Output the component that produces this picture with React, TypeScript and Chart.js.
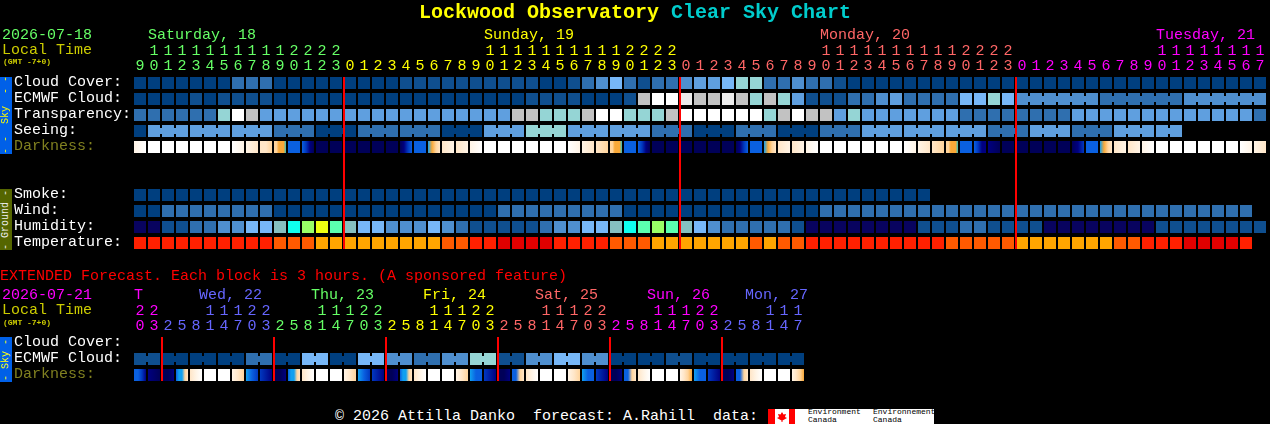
import { useEffect, useRef } from 'react';
import { Chart, registerables } from 'chart.js';

Chart.register(...registerables);

// ---- data ----
const hours = [
  9, 10, 11, 12, 13, 14, 15, 16, 17, 18, 19, 20, 21, 22, 23,
  0, 1, 2, 3, 4, 5, 6, 7, 8, 9, 10, 11, 12, 13, 14, 15, 16, 17, 18, 19, 20, 21, 22, 23,
  0, 1, 2, 3, 4, 5, 6, 7, 8, 9, 10, 11, 12, 13, 14, 15, 16, 17, 18, 19, 20, 21, 22, 23,
  0, 1, 2, 3, 4, 5, 6, 7, 8, 9, 10, 11, 12, 13, 14, 15, 16, 17,
];
const midnights = [15, 39, 63];
const rowNames = ['Cloud Cover:', 'ECMWF Cloud:', 'Transparency:', 'Seeing:', 'Darkness:', ' ', '  ', 'Smoke:', 'Wind:', 'Humidity:', 'Temperature:'];

// sky levels: 0 overcast ... 10 clear
const cloudCover = [
  0, 0, 0, 0, 0, 0, 0, 2, 2, 2, 0, 0, 0, 0, 0, 0, 0, 0, 0, 1, 1,
  1, 1, 1, 1, 1, 1, 1, 1, 0, 0, 1, 2, 3, 5, 2, 1, 2, 2, 3, 4, 4, 5, 6, 6, 2, 2, 3, 2, 2, 1, 0,
  0, 0, 0, 0, 0, 0, 0, 0, 0, 0, 0, 0, 0, 0, 0, 0, 0, 0, 0, 0, 0, 0, 0, 0, 0, 0, 0, 0, 0,
];
const ecmwfCloud = [
  0, 0, 0, 0, 1, 0, 1, 1, 1, 1, 0, 0, 0, 0, 0, 0, 0, 0, 0, 0, 0,
  0, 0, 0, 0, 0, 0, 0, 1, 1, 1, 1, 0, 0, 0, 1, 7, 10, 10, 8, 7, 7, 8, 7, 6, 7, 6, 4, 1, 1, 1, 2,
  2, 3, 4, 2, 2, 2, 2, 5, 5, 6, 5, 3, 3, 3, 3, 3, 3, 2, 2, 2, 2, 2, 2, 3, 3, 3, 3, 3, 3,
];
const transparency = [
  2, 2, 2, 2, 2, 2, 6, 10, 7, 4, 4, 4, 4, 4, 4, 4, 4, 4, 4, 4, 4,
  4, 4, 4, 4, 4, 4, 7, 7, 6, 6, 6, 7, 10, 10, 6, 6, 6, 7, 10, 10, 10, 10, 10, 10, 6, 7, 10, 7, 7, 4, 6,
  4, 4, 4, 4, 4, 4, 4, 2, 2, 2, 2, 2, 2, 2, 2, 4, 4, 4, 4, 4, 4, 4, 4, 4, 4, 4, 4, 4, 2,
];
const seeing = [
  0, 4, 4, 4, 4, 4, 4, 4, 4, 4, 2, 2, 2, 0, 0, 0, 2, 2, 2, 2, 2,
  2, 0, 0, 0, 4, 4, 4, 6, 6, 6, 4, 4, 4, 4, 4, 4, 2, 2, 2, 0, 0, 0, 2, 2, 2, 0, 0, 0, 2, 2, 2,
  4, 4, 4, 4, 4, 4, 4, 4, 4, 2, 2, 2, 4, 4, 4, 2, 2, 2, 4, 4, 4, 4, 4,
];
const smoke = [
  0, 0, 0, 0, 0, 0, 0, 0, 0, 0, 0, 0, 0, 0, 0, 0, 0, 0, 0, 0, 0,
  0, 0, 0, 0, 0, 0, 0, 0, 0, 0, 0, 0, 0, 0, 0, 0, 0, 0, 0, 0, 0, 0, 0, 0, 0, 0, 0, 0, 0, 0, 0,
  0, 0, 0, 0, 0,
];
const wind = [
  0, 0, 2, 2, 2, 2, 2, 2, 2, 2, 0, 0, 0, 0, 0, 0, 0, 0, 0, 0, 0,
  0, 0, 0, 0, 0, 2, 2, 2, 2, 2, 2, 2, 2, 2, 0, 0, 0, 0, 0, 0, 0, 0, 0, 0, 0, 0, 0, 0, 2, 2, 2,
  2, 2, 2, 2, 2, 2, 2, 2, 2, 2, 2, 2, 2, 2, 2, 2, 2, 2, 2, 2, 2, 2, 2, 2, 2, 2, 2, 2,
];
const humidity = [
  0, 0, 1, 1, 2, 2, 3, 3, 4, 4, 5, 6, 8, 9, 7, 5, 4, 4, 3, 3, 3,
  4, 3, 2, 1, 1, 1, 1, 1, 2, 3, 3, 4, 4, 5, 6, 7, 8, 7, 5, 4, 3, 2, 2, 2, 2, 2, 1, 0, 0, 0, 0,
  0, 0, 0, 0, 1, 1, 1, 2, 2, 1, 1, 1, 1, 0, 0, 0, 0, 0, 0, 0, 0, 1, 1, 1, 1, 1, 1, 1, 1,
];
const temperature = [
  1, 1, 1, 1, 1, 1, 1, 1, 1, 1, 2, 2, 2, 3, 3, 3, 3, 3, 3, 3, 3,
  3, 2, 2, 1, 1, 0, 0, 0, 0, 1, 1, 1, 1, 2, 2, 2, 3, 3, 3, 3, 3, 3, 3, 2, 3, 2, 2, 1, 1, 1, 1,
  1, 1, 1, 1, 1, 1, 2, 2, 2, 2, 2, 3, 3, 3, 3, 3, 3, 3, 2, 2, 1, 1, 1, 0, 0, 0, 0, 1,
];
// darkness levels across each block: 0 daylight ... 10 full night
const darkness = [
  [1, 0], [0], [0], [0], [0], [0], [0], [0, 1], [1, 2], [2, 2, 3], [3, 3, 4, 4, 4, 5], [7], [7, 8, 9, 10], [10], [10], [10], [10], [10], [10], [10, 9, 8, 7], [7],
  [6, 4, 3, 2], [2, 1], [2, 1], [1, 0], [0], [0], [0], [0], [0], [0], [0, 1], [1, 2], [2, 3], [3, 3, 4, 4, 4, 5], [7], [7, 8, 9, 10], [10], [10], [10], [10], [10], [10], [10, 9, 8, 7], [7], [6, 4, 3, 2], [2, 1], [2, 1], [1, 0], [0], [0], [0],
  [0], [0], [0], [0, 1], [1, 2], [2, 3], [3, 3, 4, 4, 4, 5], [7], [7, 8, 9, 9], [9, 10], [10], [10], [10], [10], [10], [10, 9, 8], [7], [6, 4, 3, 2], [2, 1], [2, 1], [1, 0], [0], [0], [0], [0], [0], [0], [0, 1], [1, 2],
];

const extHours = [
  20, 23,
  2, 5, 8, 11, 14, 17, 20, 23,
  2, 5, 8, 11, 14, 17, 20, 23,
  2, 5, 8, 11, 14, 17, 20, 23,
  2, 5, 8, 11, 14, 17, 20, 23,
  2, 5, 8, 11, 14, 17, 20, 23,
  2, 5, 8, 11, 14, 17,
];
const extMidnights = [2, 10, 18, 26, 34, 42];
const extRowNames = ['Cloud Cover:', 'ECMWF Cloud:', 'Darkness:'];
const extEcmwf = [
  1, 1, 0, 0, 0, 0, 0, 0, 2, 2, 0, 0, 5, 5, 0, 0, 5, 5, 3, 3,
  2, 2, 3, 3, 6, 6, 1, 1, 3, 3, 5, 5, 3, 3, 0, 0, 0, 0, 1, 1, 0, 0, 0, 0, 0, 0, 0, 0,
];
const extDarkness = [
  [7, 7, 8, 9], [9, 10], [10, 10, 9], [7, 6, 6, 3, 2], [2, 1, 0], [0], [0], [1, 2, 3],
  [6, 7, 8], [8, 9], [10, 10, 9], [7, 6, 6, 3, 2], [2, 1, 0], [0], [0], [1, 2, 3],
  [6, 7, 8], [8, 9], [10, 10, 9], [7, 6, 6, 3, 2], [2, 1, 0], [0], [0], [1, 2, 3],
  [6, 7, 7], [8, 9], [10, 10, 9], [7, 7, 3, 2], [2, 1, 0], [0], [0], [1, 2, 3],
  [6, 7, 7], [8, 9], [10, 10, 9], [7, 7, 3, 2], [2, 1, 0], [0], [0], [1, 2, 3, 4],
  [6, 7, 7], [8, 9], [10, 10, 9], [7, 7, 3, 2], [2, 1, 0], [0], [0], [1, 2, 3, 4],
];

// which neighbours are joined into one block (first column, run length)
const seeingGroupStart = 1;
const seeingGroupSize = 3;
const ecmwfMergedFrom = 63;
const ecmwfMergedSize = 6;
const extGroupSize = 2;

const dayTitles = ['Saturday, 18', 'Sunday, 19', 'Monday, 20', 'Tuesday, 21'];
const extDayTitles = ['T', 'Wed, 22', 'Thu, 23', 'Fri, 24', 'Sat, 25', 'Sun, 26', 'Mon, 27'];

// ---- palettes and layout ----
const GREEN = '#66ff66';
const YELLOW = '#ffff00';
const SALMON = '#ff6666';
const MAGENTA = '#ff00ff';
const BLUE = '#6666ff';
const OLIVE = '#808020';
const MONO = '"Liberation Mono", monospace';

const skyColors = ['#003f7f', '#0f4f8f', '#2f6faf', '#4f8fcf', '#5f9fdf', '#77b7f7', '#95d5d5', '#c2c2c2', '#ececec', '#fbfbfb', '#ffffff'];
const humidityColors = ['#08035f', '#0f4f8f', '#2f6faf', '#4f8fcf', '#77b7f7', '#85c0c0', '#0fffee', '#5bffaf', '#99ff66', '#eeff11'];
const temperatureColors = ['#e00000', '#ff2000', '#ff5a00', '#ffa500'];
const darknessColors = ['#ffffff', '#fff4e6', '#ffe6c8', '#ffd49c', '#f8a838', '#30c0c0', '#10a0f0', '#0a60e0', '#0038c0', '#000080', '#000058'];

const dayHeaderLeft = [148, 484, 820, 1156];
const dayHeaderColor = [GREEN, YELLOW, SALMON, MAGENTA];
const extHeaderLeft = [134, 199, 311, 423, 535, 647, 745];
const extHeaderColor = [MAGENTA, BLUE, GREEN, YELLOW, SALMON, MAGENTA, BLUE];

function cellRange(i: number): [number, number] {
  return [i - 6 / 14, i + 6 / 14];
}

function cells(row: string, values: number[], colors: string[]) {
  return {
    label: row,
    data: values.map((_, i) => ({ x: cellRange(i), y: row })),
    backgroundColor: values.map(v => colors[v]),
    barThickness: 12,
  };
}

// short bar across the gap between two columns of one block
function joins(row: string, values: number[], colors: string[], isJoined: (i: number) => boolean) {
  const idx = values.map((_, i) => i).filter(i => i < values.length - 1 && isJoined(i));
  return {
    label: row + ' join',
    data: idx.map(i => ({ x: [i + 6 / 14, i + 8 / 14], y: row })),
    backgroundColor: idx.map(i => colors[values[i]]),
    barThickness: 6,
  };
}

function darknessCells(row: string, values: number[][]) {
  return {
    label: row,
    data: values.map((_, i) => ({ x: cellRange(i), y: row })),
    barThickness: 12,
    backgroundColor: (ctx: any) => {
      const levels = values[ctx.dataIndex];
      if (!levels) return darknessColors[0];
      if (levels.length === 1) return darknessColors[levels[0]];
      const scale = ctx.chart.scales.x;
      const [a, b] = cellRange(ctx.dataIndex);
      const x0 = scale ? scale.getPixelForValue(a) : NaN;
      const x1 = scale ? scale.getPixelForValue(b) : NaN;
      // scale has no pixels yet on the first pass
      if (!Number.isFinite(x0) || !Number.isFinite(x1)) return darknessColors[levels[0]];
      const g = ctx.chart.ctx.createLinearGradient(x0, 0, x1, 0);
      levels.forEach((l, k) => g.addColorStop(k / (levels.length - 1), darknessColors[l]));
      return g;
    },
  };
}

function midnightLines(list: number[], row: string, thickness: number) {
  return {
    label: 'midnight',
    order: -1,
    data: list.map(m => ({ x: [m - 7 / 14, m - 5 / 14], y: row })),
    backgroundColor: '#ff0000',
    barThickness: thickness,
  };
}

interface BlockChartProps {
  top: number;
  height: number;
  axisHeight: number;
  paddingRight: number;
  labels: string[];
  hourLabels: number[];
  hourColor: (i: number) => string;
  datasets: any[];
}

function BlockChart({ top, height, axisHeight, paddingRight, labels, hourLabels, hourColor, datasets }: BlockChartProps) {
  const chartRef = useRef<HTMLCanvasElement>(null);

  useEffect(() => {
    if (!chartRef.current) return;
    const chart = new Chart(chartRef.current, {
      type: 'bar',
      data: {
        labels,
        datasets: datasets.map(d => ({ grouped: false, inflateAmount: 0, borderWidth: 0, ...d })),
      },
      options: {
        indexAxis: 'y',
        responsive: false,
        animation: false,
        layout: { padding: { left: 14, right: paddingRight, top: 0, bottom: 0 } },
        plugins: { legend: { display: false }, title: { display: false }, tooltip: { enabled: false } },
        scales: {
          x: {
            type: 'linear',
            position: 'top',
            min: -0.5,
            max: hourLabels.length - 0.5,
            grid: { display: false, drawTicks: false },
            border: { display: false },
            afterBuildTicks: (axis: any) => {
              axis.ticks = hourLabels.map((_, i) => ({ value: i }));
            },
            afterFit: (axis: any) => {
              axis.height = axisHeight;
            },
            ticks: {
              autoSkip: false,
              maxRotation: 0,
              padding: 1,
              font: { family: MONO, size: 15, lineHeight: 1 },
              color: (c: any) => hourColor(c.index),
              callback: (value: any) => {
                const h = hourLabels[value];
                return h >= 10 ? [String(Math.floor(h / 10)), String(h % 10)] : [' ', String(h)];
              },
            },
          },
          y: {
            type: 'category',
            offset: true,
            position: 'left',
            grid: { display: false, drawTicks: false },
            border: { display: false },
            afterFit: (axis: any) => {
              axis.width = 119;
            },
            ticks: {
              autoSkip: false,
              crossAlign: 'far',
              padding: 0,
              // blank second line lifts the name 1px above the row centre
              font: { family: MONO, size: 15, lineHeight: '2px' },
              color: (c: any) => (labels[c.index] === 'Darkness:' ? OLIVE : '#ffffff'),
              callback: (_: any, i: number) => [labels[i], ' '],
            },
          },
        },
      } as any,
    });
    return () => chart.destroy();
  }, []);

  return (
    <canvas
      ref={chartRef}
      width={1270}
      height={height}
      style={{ position: 'absolute', left: 0, top, width: 1270, height }}
    />
  );
}

function Txt({ x, y, color, size = 15, bold, children }: any) {
  return (
    <div
      style={{
        position: 'absolute',
        left: x,
        top: y - 9,
        height: 20,
        lineHeight: '20px',
        color,
        fontFamily: MONO,
        fontSize: size,
        fontWeight: bold ? 'bold' : 'normal',
        whiteSpace: 'pre',
      }}
    >
      {children}
    </div>
  );
}

function SideBand({ y, height, background, color, children }: any) {
  return (
    <div
      style={{
        position: 'absolute',
        left: 0,
        top: y,
        width: 12,
        height,
        background,
        color,
        fontFamily: MONO,
        fontSize: 10,
        lineHeight: '12px',
        textAlign: 'center',
        writingMode: 'vertical-rl',
        transform: 'rotate(180deg)',
        whiteSpace: 'pre',
      }}
    >
      {children}
    </div>
  );
}

const topHourColor = (i: number) => (i < 15 ? GREEN : i < 39 ? YELLOW : i < 63 ? SALMON : MAGENTA);
const extHourColor = (i: number) =>
  i < 2 ? MAGENTA : i < 10 ? BLUE : i < 18 ? GREEN : i < 26 ? YELLOW : i < 34 ? SALMON : i < 42 ? MAGENTA : BLUE;

export default function App() {
  useEffect(() => {
    document.body.style.margin = '0';
    document.body.style.background = '#000';
  }, []);

  const topDatasets = [
    midnightLines(midnights, ' ', 172),
    cells('Cloud Cover:', cloudCover, skyColors),
    cells('ECMWF Cloud:', ecmwfCloud, skyColors),
    joins('ECMWF Cloud:', ecmwfCloud, skyColors, i => i >= ecmwfMergedFrom && (i - ecmwfMergedFrom + 1) % ecmwfMergedSize !== 0),
    cells('Transparency:', transparency, skyColors),
    cells('Seeing:', seeing, skyColors),
    joins('Seeing:', seeing, skyColors, i => i >= seeingGroupStart && (i - seeingGroupStart + 1) % seeingGroupSize !== 0),
    darknessCells('Darkness:', darkness),
    cells('Smoke:', smoke, skyColors),
    cells('Wind:', wind, skyColors),
    cells('Humidity:', humidity, humidityColors),
    cells('Temperature:', temperature, temperatureColors),
  ];

  const extDatasets = [
    midnightLines(extMidnights, 'ECMWF Cloud:', 44),
    cells('ECMWF Cloud:', extEcmwf, skyColors),
    joins('ECMWF Cloud:', extEcmwf, skyColors, i => (i + 1) % extGroupSize !== 0),
    darknessCells('Darkness:', extDarkness),
  ];

  return (
    <div style={{ position: 'relative', width: 1270, height: 424, background: '#000', overflow: 'hidden' }}>
      <BlockChart
        top={0}
        height={253}
        axisHeight={75}
        paddingRight={3}
        labels={rowNames}
        hourLabels={hours}
        hourColor={topHourColor}
        datasets={topDatasets}
      />
      <BlockChart
        top={280}
        height={105}
        axisHeight={55}
        paddingRight={465}
        labels={extRowNames}
        hourLabels={extHours}
        hourColor={extHourColor}
        datasets={extDatasets}
      />

      <Txt x={419} y={12} size={20} bold color="#ffff00">
        Lockwood Observatory <span style={{ color: '#00cccc' }}>Clear Sky Chart</span>
      </Txt>

      <Txt x={2} y={35} color={GREEN}>2026-07-18</Txt>
      <Txt x={2} y={50} color="#cccc00">Local Time</Txt>
      <Txt x={3} y={61} size={8} bold color="#cccc00">(GMT -7+0)</Txt>
      {dayTitles.map((t, i) => (
        <Txt key={t} x={dayHeaderLeft[i]} y={35} color={dayHeaderColor[i]}>{t}</Txt>
      ))}

      <SideBand y={77} height={77} background="#0060e8" color="#ffff00">{'- -  Sky  - -'}</SideBand>
      <SideBand y={189} height={61} background="#556600" color="#eeeeee">{'- Ground -'}</SideBand>

      <Txt x={0} y={276} color="#ff0000">EXTENDED Forecast. Each block is 3 hours. (A sponsored feature)</Txt>
      <Txt x={2} y={295} color={MAGENTA}>2026-07-21</Txt>
      <Txt x={2} y={310} color="#cccc00">Local Time</Txt>
      <Txt x={3} y={322} size={8} bold color="#cccc00">(GMT -7+0)</Txt>
      {extDayTitles.map((t, i) => (
        <Txt key={t} x={extHeaderLeft[i]} y={295} color={extHeaderColor[i]}>{t}</Txt>
      ))}
      <SideBand y={337} height={45} background="#0060e8" color="#ffff00">{'- Sky -'}</SideBand>

      <Txt x={335} y={416} color="#ffffff">{'© 2026 Attilla Danko  forecast: A.Rahill  data:'}</Txt>
      <div style={{ position: 'absolute', left: 768, top: 409, width: 166, height: 15, background: '#fff' }}>
        <div style={{ position: 'absolute', left: 0, top: 0, width: 7, height: 15, background: '#ff0000' }} />
        <div style={{ position: 'absolute', left: 21, top: 0, width: 6, height: 15, background: '#ff0000' }} />
        <div
          style={{
            position: 'absolute',
            left: 9,
            top: 3,
            width: 10,
            height: 10,
            background: '#ff0000',
            clipPath: 'polygon(50% 0, 65% 25%, 90% 20%, 80% 50%, 100% 60%, 55% 85%, 55% 100%, 45% 100%, 45% 85%, 0 60%, 20% 50%, 10% 20%, 35% 25%)',
          }}
        />
      </div>
      <div style={{ position: 'absolute', left: 808, top: 408, color: '#000', fontFamily: MONO, fontSize: 8, lineHeight: '8px', whiteSpace: 'pre' }}>
        {'Environment\nCanada'}
      </div>
      <div style={{ position: 'absolute', left: 873, top: 408, color: '#000', fontFamily: MONO, fontSize: 8, lineHeight: '8px', whiteSpace: 'pre' }}>
        {'Environnement\nCanada'}
      </div>
    </div>
  );
}
